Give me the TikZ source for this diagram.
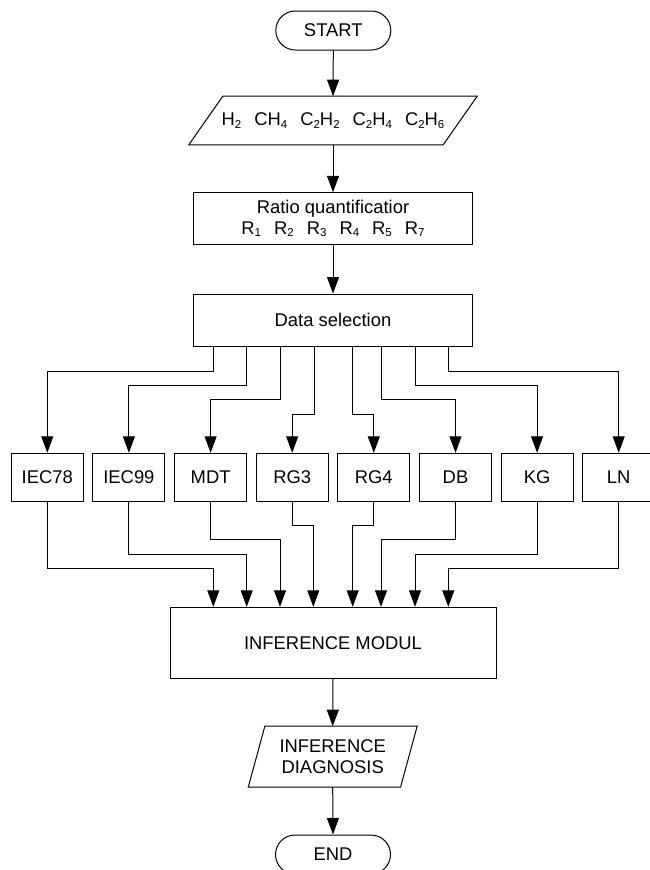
\documentclass[tikz,border=0pt]{standalone}
\usepackage{fontspec}
\setmainfont{Liberation Sans}
\usetikzlibrary{arrows.meta,calc}
\newcommand{\sbs}[1]{\raisebox{-2.8pt}{\fontsize{11.5}{12}\selectfont #1}}
\begin{document}
\begin{tikzpicture}[x=1pt,y=-1pt, line width=1pt,
  every node/.style={font=\fontsize{18.4}{21}\selectfont},
  arr/.style={-{Triangle[length=16.5pt,width=12pt]}},
  term/.style={draw, rounded corners=19.5pt, minimum width=115pt, minimum height=39pt, inner sep=0pt},
  procbox/.style={draw, minimum width=279pt, inner sep=0pt, align=center},
  smallbox/.style={draw, minimum width=72pt, minimum height=48.4pt, inner sep=0pt},
  paratext/.style={inner sep=0pt, align=center}]
\useasboundingbox (0,0) rectangle (650,870);

\node[term] (start) at (333.3,30.5) {START};

\node[paratext, minimum width=253.4pt, minimum height=47.6pt] (in) at (333,120.5)
  {H\sbs{2}\hspace{13pt}CH\sbs{4}\hspace{13pt}C\sbs{2}H\sbs{2}\hspace{13pt}C\sbs{2}H\sbs{4}\hspace{13pt}C\sbs{2}H\sbs{6}};
\draw ([xshift=17pt]in.north west) -- ([xshift=17pt]in.north east)
  -- ([xshift=-17pt]in.south east) -- ([xshift=-17pt]in.south west) -- cycle;

\node[procbox, minimum height=51.3pt] (ratio) at (333,218.4)
  {Ratio quantificatior\\R\sbs{1}\hspace{13pt}R\sbs{2}\hspace{13pt}R\sbs{3}\hspace{13pt}R\sbs{4}\hspace{13pt}R\sbs{5}\hspace{13pt}R\sbs{7}};

\node[procbox, minimum height=52.7pt] (data) at (333,320.4) {Data selection};

\node[smallbox] (b1) at (47.3,477.5) {IEC78};
\node[smallbox] (b2) at (128.9,477.5) {IEC99};
\node[smallbox] (b3) at (210.6,477.5) {MDT};
\node[smallbox] (b4) at (292.2,477.5) {RG3};
\node[smallbox] (b5) at (373.8,477.5) {RG4};
\node[smallbox] (b6) at (455.5,477.5) {DB};
\node[smallbox] (b7) at (537.1,477.5) {KG};
\node[smallbox] (b8) at (618.7,477.5) {LN};

\node[draw, minimum width=326pt, minimum height=71pt, inner sep=0pt] (inf) at (333,642.8) {INFERENCE MODUL};

\node[paratext, minimum width=151.3pt, minimum height=60pt] (out) at (332.7,756.7) {INFERENCE\\DIAGNOSIS};
\draw ([xshift=8.3pt]out.north west) -- ([xshift=8.3pt]out.north east)
  -- ([xshift=-8.3pt]out.south east) -- ([xshift=-8.3pt]out.south west) -- cycle;

\node[term] (stop) at (333,854.5) {END};

% main flow
\draw[arr] (start.south) -- (in.north);
\draw[arr] (in.south) -- (ratio.north);
\draw[arr] (ratio.south) -- (data.north);
\draw[arr] (inf.south) -- (out.north);
\draw[arr] (out.south) -- (stop.north);

% branches from data selection
\draw[arr] ([xshift=-119.7pt]data.south) -- ++(0,24) -| (b1);
\draw[arr] ([xshift=-86.3pt]data.south) -- ++(0,38.6) -| (b2);
\draw[arr] ([xshift=-53pt]data.south) -- ++(0,52.6) -| (b3);
\draw[arr] ([xshift=-19pt]data.south) -- ++(0,67.3) -| (b4);
\draw[arr] ([xshift=19.3pt]data.south) -- ++(0,67.3) -| (b5);
\draw[arr] ([xshift=48pt]data.south) -- ++(0,52.6) -| (b6);
\draw[arr] ([xshift=82pt]data.south) -- ++(0,38.6) -| (b7);
\draw[arr] ([xshift=115.3pt]data.south) -- ++(0,24) -| (b8);

% merges into inference module
\draw[arr] (b1.south) -- ++(0,66.6) -| ([xshift=-119.7pt]inf.north);
\draw[arr] (b2.south) -- ++(0,52.3) -| ([xshift=-86.3pt]inf.north);
\draw[arr] (b3.south) -- ++(0,37.6) -| ([xshift=-53pt]inf.north);
\draw[arr] (b4.south) -- ++(0,23.3) -| ([xshift=-19.7pt]inf.north);
\draw[arr] (b5.south) -- ++(0,23.3) -| ([xshift=19.7pt]inf.north);
\draw[arr] (b6.south) -- ++(0,37.6) -| ([xshift=48pt]inf.north);
\draw[arr] (b7.south) -- ++(0,52.3) -| ([xshift=82pt]inf.north);
\draw[arr] (b8.south) -- ++(0,66.6) -| ([xshift=115.3pt]inf.north);
\end{tikzpicture}
\end{document}
